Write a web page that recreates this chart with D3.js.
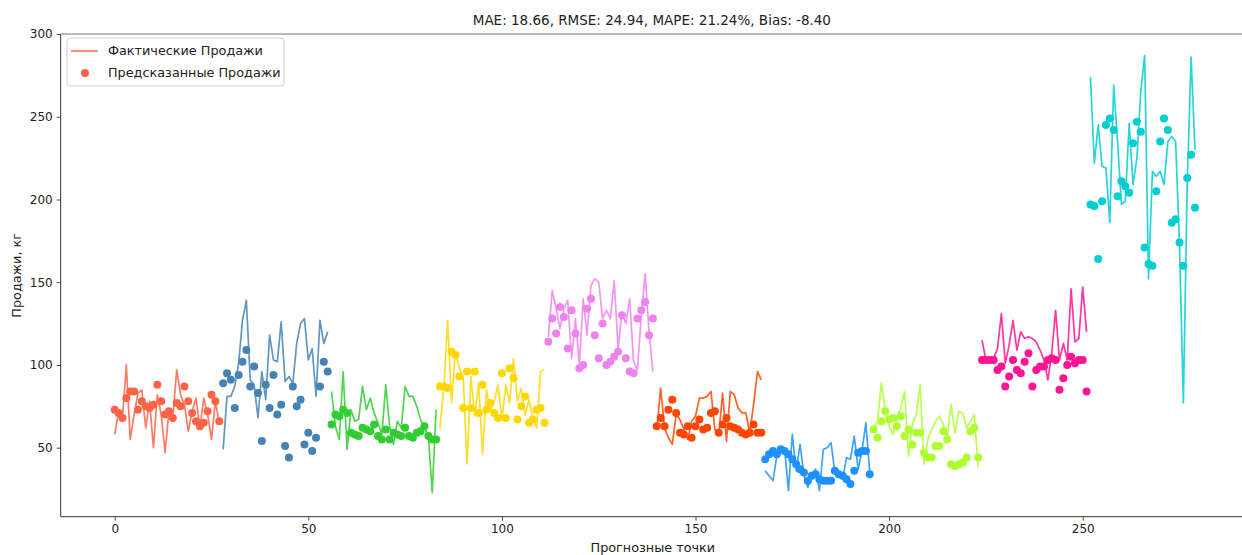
<!DOCTYPE html>
<html>
<head>
<meta charset="utf-8">
<script src="https://cdn.jsdelivr.net/npm/d3@7"></script>
<style>
  html, body { margin: 0; padding: 0; background: #fff; }
  svg { display: block; font-family: "DejaVu Sans", sans-serif; }
</style>
</head>
<body>
<svg id="chart" width="1242" height="555"></svg>
<script>
// ---- data ----
const groupSize = 28;
const groupColors = ["#FF6347", "#4682B4", "#32CD32", "#FFD700", "#EE82EE",
                     "#FF4500", "#1E90FF", "#ADFF2F", "#FF1493", "#00CED1"];

const actualSales = [
  58, 72, 68, 100, 55, 70, 83, 85, 62, 78, 50, 82, 70, 47, 72, 68, 97, 82, 76, 60, 72, 80, 62, 80, 70, 55, 78, 65,
  49, 81, 81, 87, 101, 127, 139, 91, 88, 68, 96, 79, 118, 103, 102, 126, 90, 93, 89, 113, 125, 128, 103, 110, 81, 127, 113, 120,
  84, 63, 55, 96, 49, 73, 66, 67, 87, 73, 80, 71, 65, 58, 88, 63, 52, 66, 62, 87, 81, 81, 75, 67, 62, 57, 23, 73,
  62, 86, 127, 77, 108, 98, 93, 40, 93, 69, 89, 46, 85, 72, 78, 88, 67, 88, 77, 104, 78, 86, 70, 79, 68, 62, 96, 97,
  117, 145, 134, 122, 134, 139, 104, 128, 100, 140, 118, 148, 152, 150, 128, 133, 128, 151, 110, 132, 125, 140, 102, 97, 130, 155, 120, 96,
  61, 86, 62, 56, 52, 70, 67, 61, 55, 66, 69, 80, 80, 81, 84, 61, 58, 83, 54, 84, 82, 74, 71, 71, 59, 76, 96, 91,
  36, 33, 30, 45, 47, 50, 24, 58, 36, 52, 34, 26, 33, 37, 24, 49, 50, 53, 35, 36, 31, 44, 43, 57, 37, 48, 65, 35,
  62, 66, 89, 73, 63, 58, 67, 74, 84, 45, 64, 70, 88, 40, 55, 61, 66, 69, 64, 56, 76, 59, 72, 71, 62, 66, 70, 38,
  115, 103, 103, 104, 110, 131, 101, 112, 127, 109, 120, 116, 117, 116, 114, 109, 103, 91, 107, 133, 103, 113, 103, 146, 114, 116, 147, 120,
  274, 222, 245, 220, 219, 186, 269, 235, 197, 199, 246, 209, 225, 265, 287, 152, 217, 214, 217, 209, 235, 238, 235, 173, 77, 210, 286, 230
];

const predictedSales = [
  73, 71, 68, 80, 84, 84, 73, 78, 75, 74, 76, 88, 78, 70, 72, 68, 77, 75, 87, 78, 71, 66, 63, 65, 72, 82, 78, 66,
  89, 95, 91, 74, 94, 102, 109, 87, 99, 83, 54, 88, 74, 94, 70, 76, 51, 44, 87, 75, 79, 52, 59, 48, 56, 87, 102, 96,
  64, 70, 69, 73, 71, 59, 58, 57, 62, 61, 60, 64, 57, 55, 61, 55, 59, 58, 57, 62, 57, 56, 59, 60, 63, 57, 55, 55,
  87, 87, 86, 108, 106, 93, 74, 96, 74, 96, 71, 88, 73, 77, 71, 68, 95, 68, 98, 92, 67, 75, 81, 65, 67, 73, 74, 65,
  114, 128, 119, 135, 129, 110, 133, 119, 98, 100, 134, 140, 118, 104, 125, 100, 102, 105, 108, 130, 104, 96, 95, 128, 133, 138, 118, 128,
  63, 68, 63, 73, 79, 71, 59, 58, 63, 56, 63, 67, 61, 62, 71, 72, 59, 64, 68, 63, 62, 61, 59, 58, 59, 64, 59, 59,
  43, 46, 48, 46, 49, 48, 46, 43, 40, 37, 35, 30, 33, 34, 31, 30, 30, 30, 36, 34, 33, 31, 28, 36, 47, 48, 48, 34,
  61, 56, 66, 72, 67, 68, 63, 69, 57, 61, 52, 59, 59, 47, 44, 44, 51, 51, 60, 55, 40, 39, 40, 41, 44, 60, 62, 44,
  103, 103, 103, 103, 97, 99, 87, 93, 103, 97, 95, 102, 107, 87, 97, 99, 99, 103, 104, 103, 85, 92, 100, 105, 101, 103, 103, 84,
  197, 196, 164, 199, 245, 249, 242, 202, 211, 208, 204, 234, 247, 241, 171, 161, 160, 205, 235, 249, 242, 186, 188, 174, 160, 213, 227, 195
];

const xTicks = [0, 50, 100, 150, 200, 250];
const yTicks = [50, 100, 150, 200, 250, 300];
const titleText = "MAE: 18.66, RMSE: 24.94, MAPE: 21.24%, Bias: -8.40";
const xLabel = "Прогнозные точки";
const yLabel = "Продажи, кг";
const legendLabels = ["Фактические Продажи", "Предсказанные Продажи"];

// ---- layout ----
const W = 1242, H = 555;
const plot = { left: 60.7, top: 34, right: 1249, bottom: 516.7 };
const svg = d3.select("#chart");

const n = actualSales.length;
const x = d3.scaleLinear().domain([-13.95, (n - 1) + 13.95]).range([plot.left, plot.right]);
const y = d3.scaleLinear().domain([8.3, 300]).range([plot.bottom, plot.top]);

const clipW = Math.min(plot.right, W) - plot.left;
svg.append("clipPath").attr("id", "clip")
  .append("rect").attr("x", plot.left).attr("y", plot.top)
  .attr("width", clipW).attr("height", plot.bottom - plot.top);

const g = svg.append("g").attr("clip-path", "url(#clip)");

const groups = d3.range(groupColors.length).map(k => {
  const idx = d3.range(k * groupSize, (k + 1) * groupSize);
  return { k, color: groupColors[k], idx };
});

const line = d3.line().x(i => x(i)).y(i => y(actualSales[i]));

groups.forEach(gr => {
  g.append("path")
    .datum(gr.idx)
    .attr("d", line)
    .attr("fill", "none")
    .attr("stroke", gr.color)
    .attr("stroke-opacity", 0.85)
    .attr("stroke-width", 1.7)
    .attr("stroke-linejoin", "round");
});
groups.forEach(gr => {
  g.selectAll(null)
    .data(gr.idx)
    .enter().append("circle")
    .attr("cx", i => x(i))
    .attr("cy", i => y(predictedSales[i]))
    .attr("r", 4)
    .attr("fill", gr.color);
});

// ---- axes ----
const axisColor = "#333";
const textColor = "#222";
const xAxis = d3.axisBottom(x).tickValues(xTicks).tickSize(4).tickPadding(4).tickFormat(d3.format("d"));
const yAxis = d3.axisLeft(y).tickValues(yTicks).tickSize(4).tickPadding(4).tickFormat(d3.format("d"));

const gx = svg.append("g").attr("transform", `translate(0,${plot.bottom})`).call(xAxis);
const gy = svg.append("g").attr("transform", `translate(${plot.left},0)`).call(yAxis);
[gx, gy].forEach(a => {
  a.select(".domain").remove();
  a.selectAll(".tick line").attr("stroke", axisColor).attr("stroke-width", 0.9);
  a.selectAll(".tick text").attr("fill", textColor).style("font-size", "12px")
    .style("font-family", "DejaVu Sans, sans-serif");
});

// spines
const rightEdge = Math.min(plot.right, W);
svg.append("line").attr("x1", plot.left).attr("x2", plot.left).attr("y1", plot.top).attr("y2", plot.bottom)
  .attr("stroke", axisColor).attr("stroke-width", 1);
svg.append("line").attr("x1", plot.left).attr("x2", rightEdge).attr("y1", plot.bottom).attr("y2", plot.bottom)
  .attr("stroke", axisColor).attr("stroke-width", 1);
svg.append("line").attr("x1", plot.left).attr("x2", rightEdge).attr("y1", plot.top).attr("y2", plot.top)
  .attr("stroke", "#777").attr("stroke-width", 1);

// title & labels
const cx = (plot.left + plot.right) / 2;
svg.append("text").attr("x", cx - 3).attr("y", 25).attr("text-anchor", "middle")
  .style("font-size", "13.5px").attr("fill", textColor).text(titleText);
svg.append("text").attr("x", cx - 2).attr("y", 552).attr("text-anchor", "middle")
  .style("font-size", "12.8px").attr("fill", textColor).text(xLabel);
svg.append("text").attr("transform", `translate(21,${(plot.top + plot.bottom) / 2}) rotate(-90)`)
  .attr("text-anchor", "middle").style("font-size", "12.8px").attr("fill", textColor).text(yLabel);

// legend
const lg = svg.append("g");
lg.append("rect").attr("x", 67).attr("y", 38).attr("width", 217).attr("height", 48)
  .attr("rx", 3).attr("fill", "#fff").attr("fill-opacity", 0.85)
  .attr("stroke", "#d0d0d0").attr("stroke-width", 1);
lg.append("line").attr("x1", 71).attr("x2", 98).attr("y1", 51).attr("y2", 51)
  .attr("stroke", groupColors[0]).attr("stroke-opacity", 0.85).attr("stroke-width", 1.7);
lg.append("circle").attr("cx", 85).attr("cy", 73).attr("r", 4).attr("fill", groupColors[0]);
lg.selectAll("text.lab").data(legendLabels).enter().append("text")
  .attr("class", "lab")
  .attr("x", 108).attr("y", (d, i) => 51 + i * 22)
  .attr("dy", "0.35em")
  .style("font-size", "12.8px").attr("fill", textColor).text(d => d);
</script>
</body>
</html>
